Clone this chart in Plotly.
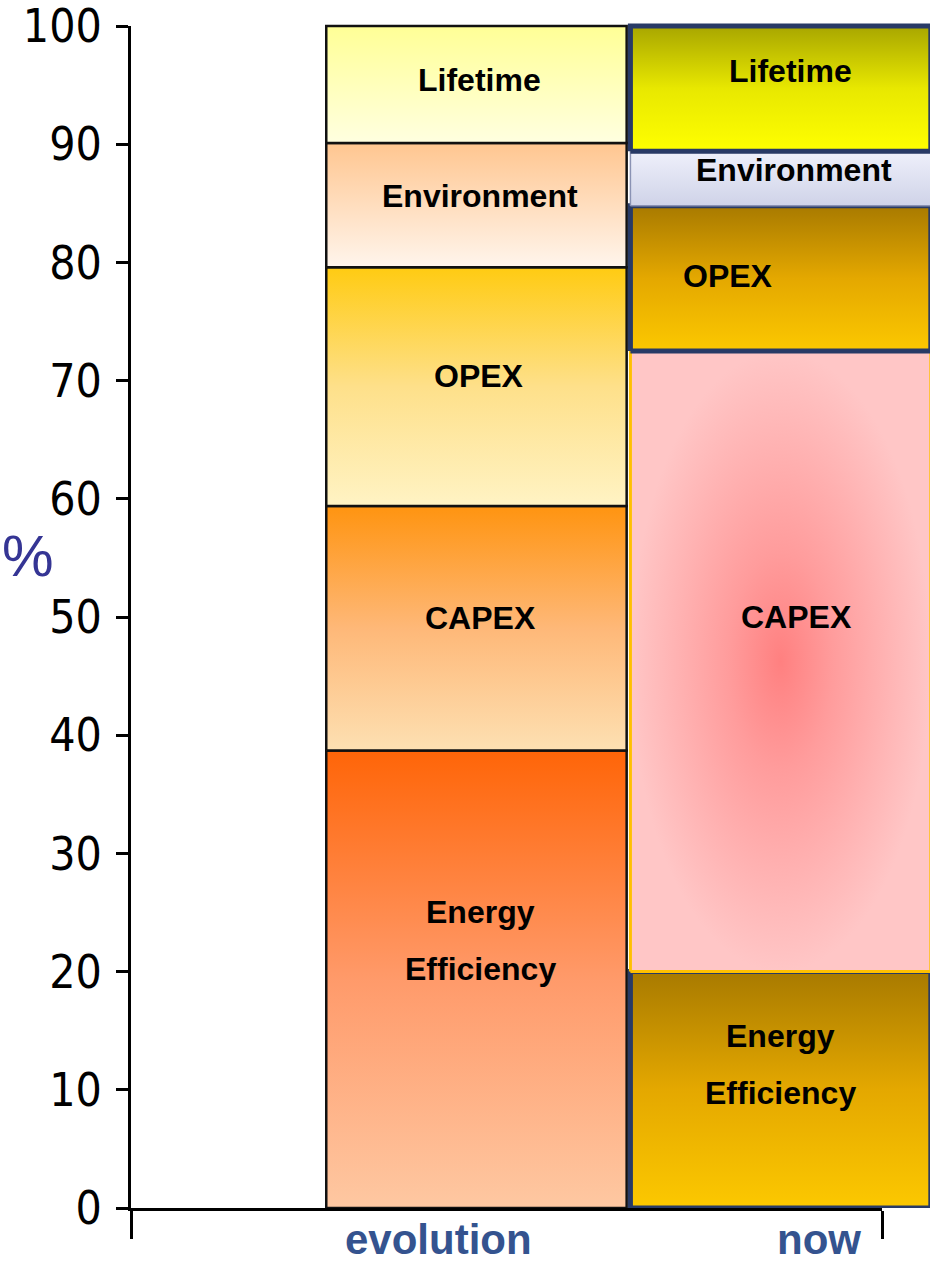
import plotly.graph_objects as go
from itertools import accumulate

# data
categories = ["evolution", "now"]
segments = ["Energy Efficiency", "CAPEX", "OPEX", "Environment", "Lifetime"]
evolution_pct = [38.7, 20.7, 20.2, 10.5, 9.9]
now_pct = [20.0, 52.5, 12.3, 4.6, 10.6]
y_ticks = list(range(0, 101, 10))

# layout helpers (pixels -> axis units)
PX_PER_X = 375.5
PX_PER_Y = 11.82
BAR_CENTER = {"evolution": 1.42, "now": 2.23}
BAR_WIDTH = 0.8
CAT_LABEL_X = {"evolution": 1.318, "now": 2.332}

# fill / border styles: vertical colorscale goes bottom -> top
style = {
	"evolution": {
		"Energy Efficiency": dict(type="vertical", cs=[[0, "#fec8a2"], [0.5, "#ff9a6a"], [1, "#ff6508"]], line="#111111", lw=2.5),
		"CAPEX": dict(type="vertical", cs=[[0, "#fde0b2"], [0.5, "#feb878"], [1, "#ff9410"]], line="#111111", lw=2.5),
		"OPEX": dict(type="vertical", cs=[[0, "#fff3c4"], [0.5, "#fee08a"], [1, "#ffcb12"]], line="#111111", lw=2.5),
		"Environment": dict(type="vertical", cs=[[0, "#fff5ec"], [1, "#ffc690"]], line="#111111", lw=2.5),
		"Lifetime": dict(type="vertical", cs=[[0, "#ffffe0"], [1, "#ffff96"]], line="#111111", lw=2.5),
	},
	"now": {
		"Energy Efficiency": dict(type="vertical", cs=[[0, "#fcc800"], [0.5, "#e4a800"], [1, "#a87a00"]], line="#283a66", lw=5),
		"CAPEX": dict(type="radial", cs=[[0, "#ff8080"], [0.35, "#ff9c9c"], [0.75, "#ffb6b6"], [1, "#ffc6c6"]], line="#ffc000", lw=3),
		"OPEX": dict(type="vertical", cs=[[0, "#fcc800"], [0.5, "#e4a800"], [1, "#a87a00"]], line="#283a66", lw=5),
		"Environment": dict(type="vertical", cs=[[0, "#cfd3e8"], [1, "#eff0fb"]], line="#8a92b4", lw=1.5),
		"Lifetime": dict(type="vertical", cs=[[0, "#ffff00"], [0.5, "#e8e800"], [1, "#a8a600"]], line="#283a66", lw=5),
	},
}

# label offsets in pixels (xshift, yshift)
label_shift = {
	"evolution": {"Energy Efficiency": (4, 39), "CAPEX": (4, 10), "OPEX": (3, 11), "Environment": (4, 9), "Lifetime": (3, 5)},
	"now": {"Energy Efficiency": (0, 25), "CAPEX": (16, 44), "OPEX": (-53, 2), "Environment": (13, 8), "Lifetime": (10, 18)},
}
LINE_GAP = 57

fig = go.Figure()
# keep the main subplot alive (it carries the visible axes)
fig.add_trace(go.Scatter(x=[], y=[], xaxis="x", yaxis="y", showlegend=False))

annotations = []
for cat, values in zip(categories, [evolution_pct, now_pct]):
	tops = list(accumulate(values))
	bases = [0] + tops[:-1]
	x0 = BAR_CENTER[cat] - BAR_WIDTH / 2
	x1 = BAR_CENTER[cat] + BAR_WIDTH / 2
	for seg, b, t in zip(segments, bases, tops):
		st = style[cat][seg]
		fig.add_trace(go.Scatter(
			x=[x0, x1, x1, x0, x0],
			y=[b, b, t, t, b],
			xaxis="x2", yaxis="y2",
			mode="lines",
			fill="toself",
			fillgradient=dict(type=st["type"], colorscale=st["cs"]),
			line=dict(color=st["line"], width=st["lw"]),
			hoverinfo="skip",
			showlegend=False,
		))
		xs, ys = label_shift[cat][seg]
		lines = seg.split(" ") if seg == "Energy Efficiency" else [seg]
		n = len(lines)
		for i, txt in enumerate(lines):
			annotations.append(dict(
				x=BAR_CENTER[cat], y=(b + t) / 2, xref="x2", yref="y2",
				text=txt, showarrow=False,
				xshift=xs, yshift=ys + (n - 1 - 2 * i) * LINE_GAP / 2,
				font=dict(family="Liberation Sans, Arial, sans-serif", size=32, color="black", weight="bold"),
			))

for cat in categories:
	annotations.append(dict(
		x=CAT_LABEL_X[cat], y=0, xref="x", yref="y", yanchor="top",
		text=cat, showarrow=False, yshift=-6,
		font=dict(family="Liberation Sans, Arial, sans-serif", size=42, color="#34538f", weight="bold"),
	))

annotations.append(dict(
	x=(28 - 131) / 799, y=55.2, xref="paper", yref="y", xanchor="center", yanchor="middle",
	text="%", showarrow=False,
	font=dict(family="Liberation Sans, Arial, sans-serif", size=58, color="#353594"),
))

W, H = 930, 1262
ML, MB = 131, 54
plot_w = W - ML
plot_h = H - MB
x_end = 0.5 + plot_w / PX_PER_X
y_dom_top = (plot_h - 26) / plot_h
y2_top = 100 / y_dom_top

fig.update_layout(
	width=W, height=H,
	margin=dict(l=ML, r=0, t=0, b=MB),
	plot_bgcolor="white", paper_bgcolor="white",
	showlegend=False,
	annotations=annotations,
	xaxis=dict(
		domain=[0, 751 / plot_w], range=[0.5, 2.5], automargin=False,
		showline=True, linecolor="black", linewidth=3,
		ticks="outside", ticklen=28, tickwidth=3, tickcolor="black",
		tickvals=[0.5, 2.5], showticklabels=False,
		showgrid=False, zeroline=False, fixedrange=True,
	),
	yaxis=dict(
		domain=[0, y_dom_top], range=[0, 100], automargin=False,
		showline=True, linecolor="black", linewidth=3,
		ticks="outside", ticklen=12, tickwidth=3, tickcolor="black",
		tickvals=y_ticks, ticklabelstandoff=5, ticklabeloverflow="allow",
		tickfont=dict(family="DejaVu Sans Condensed, sans-serif", size=46, color="black"),
		showgrid=False, zeroline=False, fixedrange=True,
	),
	xaxis2=dict(domain=[0, 1], range=[0.5, x_end], anchor="y2", visible=False, fixedrange=True, automargin=False),
	yaxis2=dict(domain=[0, 1], range=[0, y2_top], anchor="x2", visible=False, fixedrange=True, automargin=False),
)

fig.write_html(
	"out.html",
	config={"displayModeBar": False},
	post_script="document.body.style.margin='0';document.body.style.overflow='hidden';",
)
